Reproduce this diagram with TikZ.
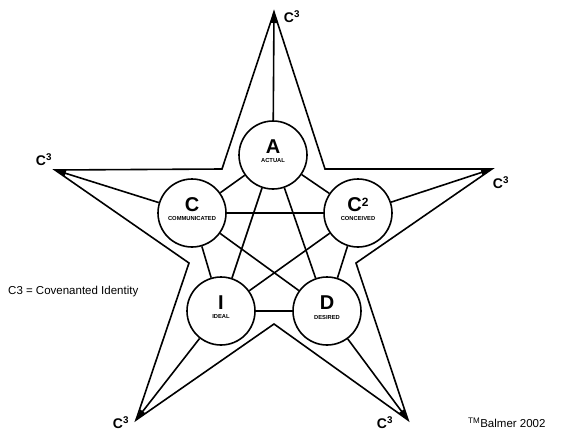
\documentclass[tikz,border=0pt]{standalone}
\usepackage{fontspec}
\setmainfont{Liberation Sans}
\usetikzlibrary{arrows.meta}
\begin{document}
\begin{tikzpicture}[x=1pt,y=-1pt,
  outline/.style={line width=1.6pt,line join=miter},
  link/.style={line width=1.6pt},
  spoke/.style={line width=1.6pt,-{Latex[length=11pt,width=7pt]}},
  circ/.style={circle,draw,line width=1.6pt,minimum size=68pt,inner sep=0pt},
  big/.style={font=\fontsize{20}{20}\selectfont\bfseries},
  small/.style={font=\fontsize{5.8}{6}\selectfont\bfseries},
  cthree/.style={font=\fontsize{14}{14}\selectfont\bfseries,inner sep=0pt}]
\useasboundingbox (0,0) rectangle (568,434);
% star tips and inner vertices
\coordinate (tT) at (274,12);
\coordinate (tL) at (55,170);
\coordinate (tR) at (492,169);
\coordinate (tBL) at (136,420);
\coordinate (tBR) at (408,420);
\coordinate (iUL) at (222,169);
\coordinate (iUR) at (325,169);
\coordinate (iLL) at (189,263);
\coordinate (iLR) at (356,263);
\coordinate (iB) at (274,324);
\draw[outline] (tT) -- (iUL) -- (tL) -- (iLL) -- (tBL) -- (iB) -- (tBR) -- (iLR) -- (tR) -- (iUR) -- cycle;
% circles
\node[circ] (A) at (273,155) {};
\node[circ] (C) at (192,213) {};
\node[circ] (C2) at (358,213) {};
\node[circ] (I) at (221,311) {};
\node[circ] (D) at (327,311) {};
% circle texts
\node[big] (lA) at (273,147) {A};
\node[small] (sA) at (273,161) {ACTUAL};
\node[big] (lC) at (192,205) {C};
\node[small] (sC) at (192,219) {COMMUNICATED};
\node[big] (lC2) at (358,205) {C\raisebox{0.5ex}{\fontsize{12}{12}\selectfont 2}};
\node[small] (sC2) at (358,219) {CONCEIVED};
\node[big] (lI) at (221,303) {I};
\node[small] (sI) at (221,317) {IDEAL};
\node[big] (lD) at (327,303) {D};
\node[small] (sD) at (327,317) {DESIRED};
% links
\draw[link] (A) -- (C);
\draw[link] (A) -- (C2);
\draw[link] (A) -- (I);
\draw[link] (A) -- (D);
\draw[link] (C) -- (C2);
\draw[link] (C) -- (I);
\draw[link] (C) -- (D);
\draw[link] (C2) -- (I);
\draw[link] (C2) -- (D);
\draw[link] (I) -- (D);
% spokes
\draw[spoke] (A) -- (tT);
\draw[spoke] (C) -- (tL);
\draw[spoke] (C2) -- (tR);
\draw[spoke] (I) -- (tBL);
\draw[spoke] (D) -- (tBR);
% C3 labels
\node[cthree] (cT) at (292,17) {C\textsuperscript{3}};
\node[cthree] (cL) at (44,160) {C\textsuperscript{3}};
\node[cthree] (cR) at (501,183) {C\textsuperscript{3}};
\node[cthree] (cBL) at (121,423) {C\textsuperscript{3}};
\node[cthree] (cBR) at (385,423) {C\textsuperscript{3}};
% legend
\node[anchor=west,font=\fontsize{11.5}{12}\selectfont,inner sep=0pt] (leg) at (8,292) {C3 = Covenanted Identity};
\node[anchor=west,font=\fontsize{11.5}{12}\selectfont,inner sep=0pt] (tm) at (468,423) {\textsuperscript{TM}Balmer 2002};
\end{tikzpicture}
\end{document}
